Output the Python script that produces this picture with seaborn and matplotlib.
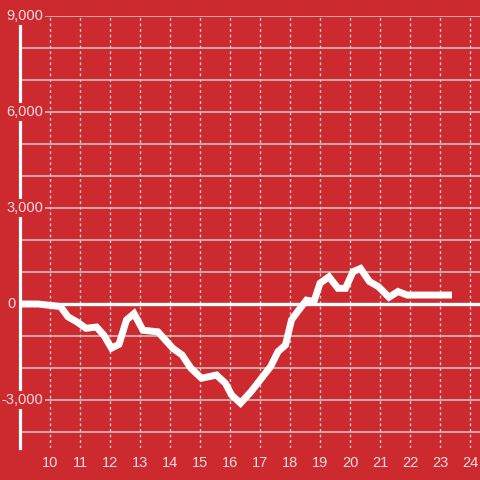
import matplotlib
matplotlib.use("Agg")
import matplotlib.pyplot as plt
import seaborn as sns
import pandas as pd
from matplotlib.transforms import blended_transform_factory

hours = [9.0, 9.6, 10.35, 10.6, 10.9, 11.2, 11.55, 11.8, 12.05, 12.3, 12.55, 12.8,
         13.1, 13.6, 14.1, 14.4, 14.7, 15.05, 15.55, 15.85, 16.05, 16.35, 16.7, 17.0,
         17.35, 17.6, 17.85, 18.05, 18.25, 18.55, 18.8, 19.0, 19.3, 19.6, 19.85, 20.1,
         20.35, 20.65, 20.95, 21.3, 21.6, 21.9, 23.4]
values = [0, 0, -80, -400, -560, -760, -720, -980, -1380, -1260, -500, -300,
          -820, -870, -1390, -1590, -2010, -2320, -2220, -2480, -2840, -3100, -2740, -2380,
          -1960, -1490, -1280, -500, -240, 120, 80, 650, 850, 490, 490, 1010,
          1110, 700, 540, 210, 390, 280, 280]
x_ticks = list(range(10, 25))
y_ticks = [-3000, 0, 3000, 6000, 9000]
y_labels = ["-3,000", "0", "3,000", "6,000", "9,000"]
y_grid = list(range(-4000, 9001, 1000))

RED = "#cc2a2f"
GRID = "#cbcbcb"
LABEL = "#f7dede"

sns.set_theme(style="white")
plt.rcParams["font.family"] = ["Liberation Sans", "DejaVu Sans"]

fig = plt.figure(figsize=(4.8, 4.8), dpi=100, facecolor=RED)
ax = fig.add_axes([20 / 480, 32 / 480, 460 / 480, 432 / 480])
ax.set_facecolor(RED)
ax.set_xlim(9, 9 + 460 / 30)
ax.set_ylim(-4500, 9000)

for g in y_grid:
    ax.axhline(g, color=GRID, lw=1.1, zorder=1)
for t in x_ticks:
    ax.axvline(t, color=GRID, lw=1.0, ls=(0, (2, 2)), zorder=1)
ax.axhline(0, color="white", lw=2.4, zorder=2)

df = pd.DataFrame({"hour": hours, "value": values})
sns.lineplot(data=df, x="hour", y="value", ax=ax, color="white", lw=5,
             zorder=3, solid_capstyle="butt", solid_joinstyle="miter")

for s in ["top", "right", "bottom"]:
    ax.spines[s].set_visible(False)
ax.spines["left"].set_color("white")
ax.spines["left"].set_linewidth(2.3)
ax.spines["left"].set_zorder(4)

ax.set_xticks(x_ticks)
ax.set_xticklabels([str(t) for t in x_ticks])
ax.tick_params(axis="x", length=0, pad=6, labelsize=10.5, labelcolor=LABEL)
ax.set_yticks([])
ax.set_xlabel("")
ax.set_ylabel("")

trans = blended_transform_factory(fig.transFigure, ax.transData)
for v, lab in zip(y_ticks, y_labels):
    ax.text(43 / 480 if v != 0 else 15.5 / 480, v, lab, transform=trans,
            ha="right", va="center",
            fontsize=10.5, color=LABEL, zorder=10, clip_on=False,
            bbox=dict(facecolor=RED, edgecolor="none", pad=1.5))

fig.savefig("out.png", dpi=100, facecolor=RED)
